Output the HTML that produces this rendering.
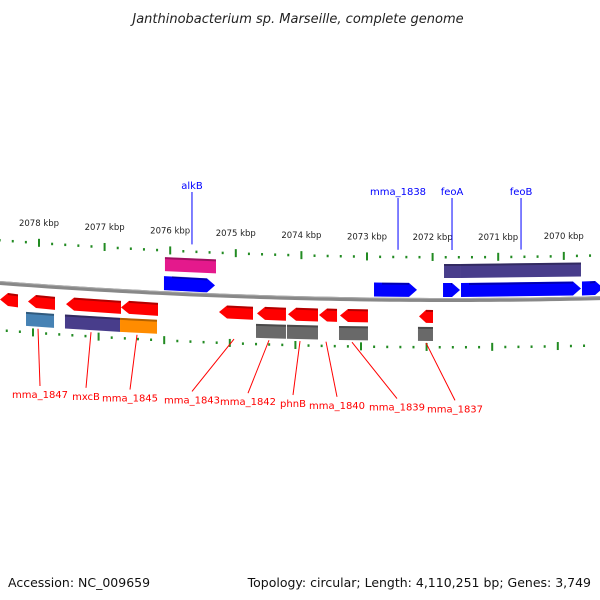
<!DOCTYPE html>
<html><head><meta charset="utf-8"><style>
html,body{margin:0;padding:0;background:#fff;width:600px;height:600px;overflow:hidden}
svg{display:block;font-family:"DejaVu Sans","Liberation Sans",sans-serif}
</style></head><body>
<svg id="map" width="600" height="600" viewBox="0 0 600 600">
<text x="298" y="23" text-anchor="middle" font-size="13" font-style="italic" fill="#222">Janthinobacterium sp. Marseille, complete genome</text>
<text x="8" y="587" font-size="12.5" fill="#111">Accession: NC_009659</text>
<text x="591" y="587" text-anchor="end" font-size="12.5" fill="#111">Topology: circular; Length: 4,110,251 bp; Genes: 3,749</text>
</svg>
<script>
// scale ticks (kbp)
const kbpTicks = [2078,2077,2076,2075,2074,2073,2072,2071,2070];
// reverse-strand genes (kbp)
const geneStart = [2078.595,2078.168,2077.588,2076.75,2075.256,2074.677,2074.204,2073.732,2073.412,2072.207];
const geneEnd   = [2078.32,2077.756,2076.75,2076.186,2074.738,2074.235,2073.747,2073.457,2072.985,2071.994];
const featStart = [2078.198,2077.604,2076.765,2074.692,2074.22,2073.427,2072.223];
const featEnd   = [2077.771,2076.765,2076.201,2074.235,2073.747,2072.985,2071.994];
const featColor = ["#4682b4","#483d8b","#ff8c00","#696969","#696969","#696969","#696969"];
// forward-strand genes (kbp)
const fwdStart  = [2076.095,2072.893,2071.841,2071.567,2069.723];
const fwdEnd    = [2075.317,2072.238,2071.582,2069.738,2069.40];
const topStart  = [2076.08,2071.826,2071.582];
const topEnd    = [2075.302,2071.582,2069.738];
const topColor  = ["#e4198c","#483d8b","#483d8b"];
const upLabels  = ["alkB","mma_1838","feoA","feoB"];
const upLabelKbp= [2075.668,2072.527,2071.704,2070.652];
const downLabels= ["mma_1847","mxcB","mma_1845","mma_1843","mma_1842","phnB","mma_1840","mma_1839","mma_1837"];
const downGeneKbp=[2078.015,2077.207,2076.506,2075.027,2074.494,2074.021,2073.625,2073.229,2072.1];
const downTextX = [40,86,130,192,248,293,337,397,455];

const svg=document.getElementById('map');
const NS='http://www.w3.org/2000/svg';
const X=k=>39+(2078-k)*65.6;
const bb=x=>300-17*Math.pow((450-x)/450,2);
function mk(t,a,name){const e=document.createElementNS(NS,t);for(const k in a)e.setAttribute(k,a[k]);


svg.appendChild(e);return e;}

let pts=[];for(let x=0;x<=600;x+=10)pts.push(x+','+bb(x));
mk('polyline',{points:pts.join(' '),fill:'none',stroke:'#888',"stroke-width":4},'backbone');
pts=[];for(let x=0;x<=600;x+=10)pts.push(x+','+(bb(x)-1.5));
mk('polyline',{points:pts.join(' '),fill:'none',stroke:'#aaa',"stroke-width":1},'backbone-highlight');

for(let k=2079;k>=2069;k-=0.2){const kk=Math.round(k*10)/10;const x=X(kk);if(x<-2||x>602)continue;
 const major=Math.abs(kk-Math.round(kk))<0.01;
 const yu=bb(x)-43, yl=bb(x-6)+47;
 mk('rect',{x:x-1,y:major?yu-4:yu-1,width:2,height:major?8:2.5,fill:'#228b22'},'upper-tick');
 mk('rect',{x:x-7,y:major?yl-4:yl-1,width:2,height:major?8:2.5,fill:'#228b22'},'lower-tick');
}
kbpTicks.forEach(k=>{const x=X(k);const t=mk('text',{x:x,y:bb(x)-60,"text-anchor":"middle","font-size":8.5,fill:'#222'},'kbp-label');t.textContent=k+' kbp';});

function gene(s,e,top,h,col,dir,name){
 const x1=X(s),x2=X(e);const L=Math.min(x1,x2),R=Math.max(x1,x2);
 const yL=bb(L)+top,yR=bb(R)+top;const a=dir?Math.min(8,(R-L)*0.5):0;let p;
 if(dir==='rev')p=[[L,yL+h/2],[L+a,yL],[R,yR],[R,yR+h],[L+a,yL+h]];
 else if(dir==='fwd')p=[[L,yL],[R-a,yR],[R,yR+h/2],[R-a,yR+h],[L,yL+h]];
 else p=[[L,yL],[R,yR],[R,yR+h],[L,yL+h]];
 mk('polygon',{points:p.map(q=>q.join(',')).join(' '),fill:col},name);
 mk('line',{x1:L+a,y1:yL+1,x2:dir==='fwd'?R-a:R,y2:yR+1,stroke:'rgba(0,0,0,0.3)',"stroke-width":2},name+'-shade');
}
geneStart.forEach((s,i)=>gene(s,geneEnd[i],10,13,'#ff0000','rev','reverse-gene'));
featStart.forEach((s,i)=>gene(s,featEnd[i],27,14,featColor[i],null,'reverse-feature'));
fwdStart.forEach((s,i)=>gene(s,fwdEnd[i],-17,14,'#0000ff','fwd','forward-gene'));
topStart.forEach((s,i)=>gene(s,topEnd[i],-36,14,topColor[i],null,'forward-feature'));

upLabels.forEach((l,i)=>{const x=X(upLabelKbp[i]);
 mk('line',{x1:x,y1:i==0?192:198,x2:x,y2:bb(x)-50,stroke:'#0000ff',"stroke-width":1},'label-line');
 const t=mk('text',{x:x,y:i==0?189:195,"text-anchor":"middle","font-size":10,fill:'#0000ff'},'gene-label');t.textContent=l;});
downLabels.forEach((l,i)=>{const x=X(downGeneKbp[i]);const tx=downTextX[i];
 mk('line',{x1:x,y1:bb(x)+43,x2:tx,y2:386+i*1.8,stroke:'#ff0000',"stroke-width":1},'label-line');
 const t=mk('text',{x:tx,y:398+i*1.8,"text-anchor":"middle","font-size":10,fill:'#ff0000'},'gene-label');t.textContent=l;});
</script>
</body></html>
